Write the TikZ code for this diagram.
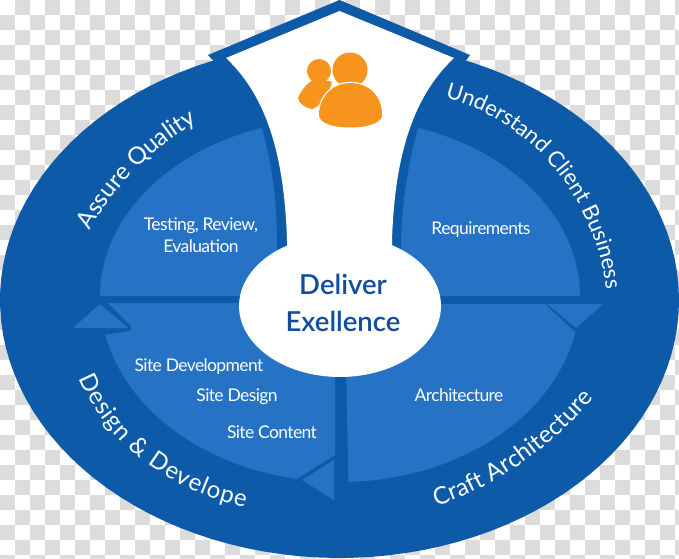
\documentclass[tikz,border=0pt]{standalone}
\usepackage{fontspec}
\usetikzlibrary{decorations.text}
\setmainfont{Lato}
\newfontfamily\lightf{Lato}[LetterSpace=-3.5]
\newfontfamily\arcf{Lato}
\newfontfamily\heavyf{Lato Semibold}
\definecolor{bandblue}{HTML}{0D5AA8}
\definecolor{quadblue}{HTML}{2673C6}
\definecolor{titleblue}{HTML}{114D9F}
\definecolor{iconorange}{HTML}{F7941E}
\definecolor{checkgrey}{HTML}{DCDCDC}
\tikzset{
  quad/.style={fill=quadblue,draw=none},
  band/.style={fill=bandblue,draw=none},
  inner label/.style={text=white,font=\lightf\fontsize{17.5}{21}\selectfont,align=center,inner sep=0pt},
  title label/.style={text=titleblue,font=\heavyf\fontsize{27.5}{32}\selectfont,inner sep=0pt},
  arc label/.style 2 args={decorate,decoration={text along path,text align={fit to path},text={|\arcf\fontsize{#1}{26}\selectfont\color{white}|#2}}}
}
\begin{document}
\begin{tikzpicture}[x=1pt,y=-1pt]
\useasboundingbox (0,0) rectangle (679,558);
\fill[white] (0,0) rectangle (679,558);
% transparency checker
\foreach \i in {0,...,45}{\foreach \j in {0,...,37}{
  \pgfmathtruncatemacro{\odd}{mod(\i+\j,2)}
  \ifnum\odd=1 \fill[checkgrey] ({\i*15},{\j*15}) rectangle ++(15,15);\fi
}}
% outer disc and roof
\begin{scope}
\clip (0,0) rectangle (679,558);
\fill[band] plot[domain=0:360,samples=120] ({339.5+339.5*cos(\x)},{300-258*sin(\x)}) -- cycle;
\end{scope}
\fill[band] (339.5,0) -- (470,55) -- (465,62) -- (215,62) -- (208,55) -- cycle;
% quadrants
\fill[quad] plot[domain=180:109,samples=40] ({340+240*cos(\x)},{296-178*sin(\x)})
  .. controls (272,165) and (277,200) .. (277,245) -- (277,296) -- cycle;
\fill[quad] plot[domain=0:71,samples=40] ({340+240*cos(\x)},{296-178*sin(\x)})
  .. controls (408,165) and (402,200) .. (401,245) -- (401,296) -- cycle;
\fill[quad] (108,303) -- (335,303) -- (335,455) -- (298,478)
  -- plot[domain=260:192,samples=40] ({340+240*cos(\x)},{296-186*sin(\x)})
  -- (131,331) -- (131,326) -- cycle;
\fill[quad] (345,304) -- (545,304) -- (575,332)
  -- plot[domain=349:272,samples=40] ({340+240*cos(\x)},{296-186*sin(\x)}) -- (345,304) -- cycle;
% arrow triangles
\fill[quad] (100,304) -- (73,328) -- (128,328) -- cycle;
\fill[quad] (547,304) -- (603,304) -- (576,328) -- cycle;
\fill[quad] (302,480) -- (334,460) -- (334,500) -- cycle;
% white funnel
\fill[white] (339.5,11) -- (454,58) .. controls (418,92) and (395,145) .. (392,240) -- (392,270)
  -- (287,270) -- (287,240) .. controls (284,145) and (262,92) .. (226,58) -- cycle;
\fill[white] plot[domain=0:360,samples=90] ({340+101*cos(\x)},{306-71*sin(\x)}) -- cycle;
% person icon
\fill[iconorange] (319,71) circle (12);
\fill[iconorange] (298,98) .. controls (302,88) and (310,81) .. (316,78) -- (332,82)
  -- (326,100) -- (313,109) .. controls (305,108) and (299,104) .. (298,98) -- cycle;
\fill[iconorange] (350,70) circle (17.5);
\fill[iconorange,draw=white,line width=2.5pt] (319,115) .. controls (319,95) and (335,83) .. (350,83)
  .. controls (368,83) and (382,95) .. (382,115) .. controls (382,122) and (370,127.5) .. (350,127.5)
  .. controls (330,127.5) and (319,122) .. (319,115) -- cycle;
\fill[iconorange] (319,115) .. controls (319,95) and (335,83) .. (350,83)
  .. controls (368,83) and (382,95) .. (382,115) .. controls (382,122) and (370,127.5) .. (350,127.5)
  .. controls (330,127.5) and (319,122) .. (319,115) -- cycle;
% labels
\node[title label] (deliver) at (343,284) {Deliver};
\node[title label] (exellence) at (343,321) {Exellence};
\node[inner label] (testing) at (201,226) {Testing, Review,};
\node[inner label] (evaluation) at (201,246) {Evaluation};
\node[inner label] (requirements) at (481,230) {Requirements};
\node[inner label] (architecture) at (459,395) {Architecture};
\node[inner label] (sitedev) at (199,367) {Site Development};
\node[inner label] (sitedes) at (237,397) {Site Design};
\node[inner label] (sitecon) at (272,432) {Site Content};
% curved labels
\path[arc label={24}{Assure Quality}] (90,231) .. controls (112,190) and (150,150) .. (194,124);
\path[arc label={22}{Understand Client Business}] (445,98) .. controls (522,118) and (592,185) .. (606,288);
\path[arc label={24}{Craft Architecture}] (436,506) .. controls (490,490) and (550,450) .. (594,398);
\path[arc label={24}{Design {\&} Develope}] (79,378) .. controls (105,440) and (165,490) .. (245,507);
\end{tikzpicture}
\end{document}
